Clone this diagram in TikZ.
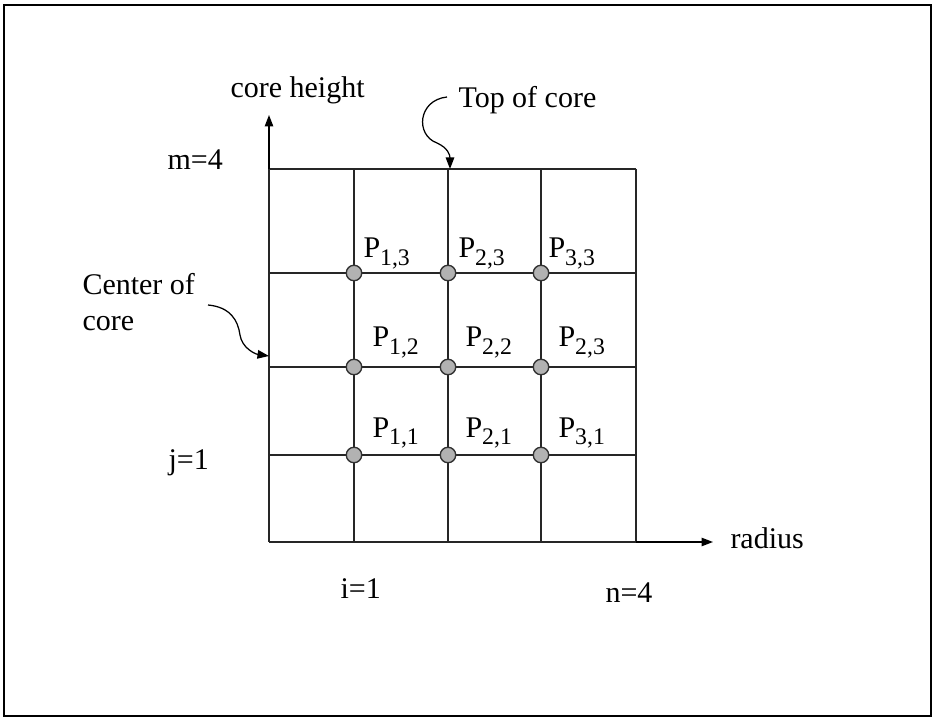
\documentclass[tikz,border=0pt]{standalone}
\usepackage{fontspec}
\setmainfont{Liberation Serif}
\usepackage{tikz}
\usetikzlibrary{arrows.meta,positioning}

\newcommand{\psub}[1]{\raisebox{-3pt}{\fontsize{9.5}{10}\selectfont #1}}

\begin{document}
\begin{tikzpicture}[
  x=0.4pt,
  y=-0.4pt,
  font=\fontsize{12}{12}\selectfont,
  >={Triangle[length=4.6pt,width=3.4pt]},
  frame/.style={
    draw=black,
    line width=0.9pt
  },
  gridline/.style={
    draw=black!85,
    line width=0.5pt
  },
  knot/.style={
    circle,
    draw=black!80,
    fill=black!30,
    line width=0.55pt,
    minimum size=6.2pt,
    inner sep=0pt
  },
  lbl/.style={
    anchor=base west,
    inner sep=0pt
  },
  axis/.style={
    ->,
    line width=0.5pt
  },
  callout/.style={
    ->,
    line width=0.5pt
  }
]

\useasboundingbox (0,0) rectangle (935,719);
\draw[frame] (4,5) rectangle (931,716);

% the mesh
\foreach \x in {269,354,448,541,636}
  \draw[gridline] (\x,169) -- (\x,542);
\foreach \y in {169,273,367,455,542}
  \draw[gridline] (269,\y) -- (636,\y);

\coordinate (origin) at (269,542);
\coordinate (ytop) at (269,169);
\coordinate (yend) at (269,115);
\coordinate (xright) at (636,542);
\coordinate (xend) at (713,542);

% axes
\draw[axis] (ytop) -- (yend);
\draw[axis] (xright) -- (xend);

\node[lbl] (height) at (230,98) {core height};
\node[lbl] (radius) at (730,548) {radius};

\node[lbl] (mtop) at (167,170) {m=4};
\node[lbl] (jbot) at (168,470) {j=1};
\node[lbl] (ileft) at (340,598) {i=1};
\node[lbl] (nright) at (605,603) {n=4};

% interior mesh points
\foreach \x/\i in {354/1,448/2,541/3}
  \foreach \y/\j in {455/1,367/2,273/3}
    \node[knot] (p\i\j) at (\x,\y) {};

\node[lbl] (l13) at (363,258) {P\psub{1,3}};
\node[lbl] (l23) at (458,258) {P\psub{2,3}};
\node[lbl] (l33) at (548,258) {P\psub{3,3}};

\node[lbl] (l12) at (372,347) {P\psub{1,2}};
\node[lbl] (l22) at (465,347) {P\psub{2,2}};
\node[lbl] (l32) at (558,347) {P\psub{2,3}};

\node[lbl] (l11) at (372,437) {P\psub{1,1}};
\node[lbl] (l21) at (465,437) {P\psub{2,1}};
\node[lbl] (l31) at (558,437) {P\psub{3,1}};

% callouts
\node[lbl] (topcore) at (458,108) {Top of core};
\coordinate (topstart) at (447,97);
\coordinate (toptip) at (450,169);
\draw[callout] (topstart)
  .. controls (418,100) and (415,135) .. (437,143)
  .. controls (448,148) and (450,155) .. (toptip);

\node[lbl, align=left] (centercore) at (82,331) {Center of\\[2.5pt]core};
\coordinate (centstart) at (208,305);
\coordinate (centtip) at (269,356);
\draw[callout] (centstart)
  .. controls (230,307) and (238,320) .. (240,335)
  .. controls (242,348) and (255,354) .. (centtip);

\end{tikzpicture}
\end{document}
